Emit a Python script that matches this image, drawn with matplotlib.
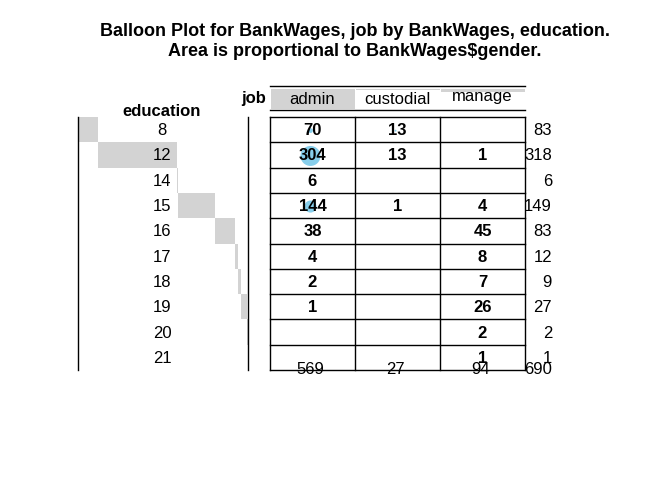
import matplotlib
matplotlib.use("Agg")
import matplotlib.pyplot as plt
from matplotlib.patches import Rectangle, Circle

plt.rcParams['font.family'] = ['Liberation Sans', 'DejaVu Sans']

education = ["8", "12", "14", "15", "16", "17", "18", "19", "20", "21"]
jobs = ["admin", "custodial", "manage"]
admin = [70, 304, 6, 144, 38, 4, 2, 1, 0, 0]
custodial = [13, 13, 0, 1, 0, 0, 0, 0, 0, 0]
manage = [0, 1, 0, 4, 45, 8, 7, 26, 2, 1]
# balloon size values
gender_admin = [12, 220, 0, 80, 0, 2, 0, 0, 0, 0]
gender_custodial = [2, 0, 0, 0, 0, 0, 0, 0, 0, 0]
gender_manage = [0, 0, 0, 0, 0, 0, 0, 0, 0, 0]

counts = [admin, custodial, manage]
sizes = [gender_admin, gender_custodial, gender_manage]
row_tot = [sum(c[i] for c in counts) for i in range(len(education))]
col_tot = [sum(c) for c in counts]
grand = sum(row_tot)

fig = plt.figure(figsize=(6.72, 4.8), dpi=100)
ax = fig.add_axes([0, 0, 1, 1])
ax.set_xlim(0, 672); ax.set_ylim(480, 0); ax.axis('off')

x0, cw = 270, 85
y0, rh = 117, 25.3
nr = len(education)
fs = 12

ax.text(355, 31, "Balloon Plot for BankWages, job by BankWages, education.", ha='center', va='center', fontsize=13, fontweight='bold')
ax.text(355, 52, "Area is proportional to BankWages$gender.", ha='center', va='center', fontsize=13, fontweight='bold')

# column header shading
maxc = max(col_tot)
for j, t in enumerate(col_tot):
    h = 20 * t / maxc
    ax.add_patch(Rectangle((x0 + j*cw + 1, 89), cw - 1, h, color='#d3d3d3', lw=0))
    ax.text(x0 + j*cw + cw/2, 99 if j < 2 else 97, jobs[j], ha='center', va='center', fontsize=fs)
ax.plot([x0, x0 + 3*cw], [86, 86], color='black', lw=1)
ax.plot([x0, x0 + 3*cw], [110, 110], color='black', lw=1)
ax.text(254, 99, "job", ha='center', va='center', fontsize=fs, fontweight='bold')
ax.text(162, 111, "education", ha='center', va='center', fontsize=fs, fontweight='bold')

# row shading, cumulative
scale = 170 / grand
cum = 78
for i, t in enumerate(row_tot):
    w = t * scale
    ax.add_patch(Rectangle((cum, y0 + i*rh), w, rh, color='#d3d3d3', lw=0))
    cum += w
    ax.text(162, y0 + i*rh + rh/2 + 1, education[i], ha='center', va='center', fontsize=fs)
    ax.text(552, y0 + i*rh + rh/2 + 1, str(t), ha='right', va='center', fontsize=fs)
ax.plot([78, 78], [y0, y0 + nr*rh], color='black', lw=1)
ax.plot([248, 248], [y0, y0 + nr*rh], color='black', lw=1)

# grid
for i in range(nr + 1):
    ax.plot([x0, x0 + 3*cw], [y0 + i*rh, y0 + i*rh], color='black', lw=1)
for j in range(4):
    ax.plot([x0 + j*cw, x0 + j*cw], [y0, y0 + nr*rh], color='black', lw=1)

maxs = max(max(s) for s in sizes)
for j in range(3):
    for i in range(nr):
        cx = x0 + j*cw + cw/2 - 2
        cy = y0 + i*rh + rh/2 + 1
        s = sizes[j][i]
        if s > 0:
            r = 10 * (s / maxs) ** 0.5
            ax.add_patch(Circle((cx, cy), r, color='#87ceeb', lw=0))
        if counts[j][i] > 0:
            ax.text(cx + 2, cy, str(counts[j][i]), ha='center', va='center', fontsize=fs, fontweight='bold')
    ax.text(x0 + j*cw + cw/2 - 2, 370, str(col_tot[j]), ha='center', va='center', fontsize=fs)
ax.text(552, 370, str(grand), ha='right', va='center', fontsize=fs)

fig.savefig("out.png", dpi=100)
